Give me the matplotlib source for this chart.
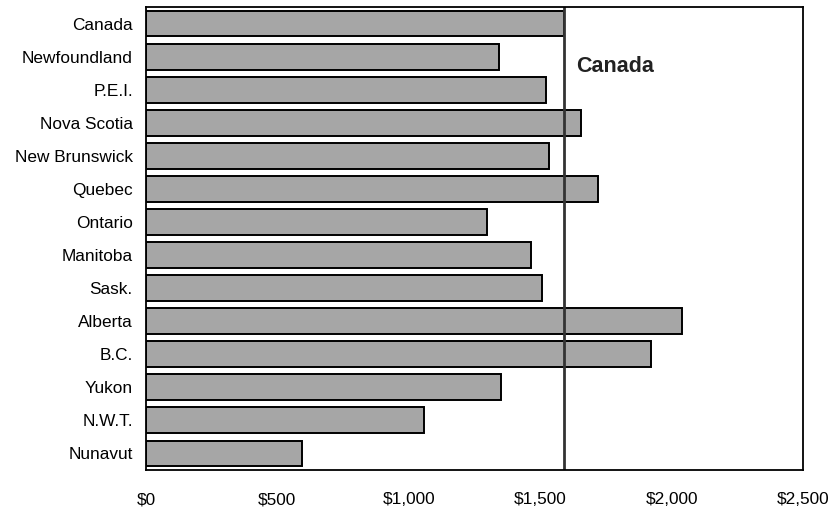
import numpy as np
import matplotlib.pyplot as plt
from matplotlib.ticker import FuncFormatter

plt.rcParams['font.family'] = ['Liberation Sans', 'DejaVu Sans']

# Data
regions = ['Canada', 'Newfoundland', 'P.E.I.', 'Nova Scotia', 'New Brunswick',
           'Quebec', 'Ontario', 'Manitoba', 'Sask.', 'Alberta', 'B.C.',
           'Yukon', 'N.W.T.', 'Nunavut']
values = [1591, 1345, 1521, 1654, 1532, 1719, 1299, 1464, 1508, 2040, 1923,
          1350, 1057, 593]
canada_value = values[0]
x_ticks = [0, 500, 1000, 1500, 2000, 2500]

fig = plt.figure(figsize=(8.3, 5.11), dpi=100)
ax = fig.add_axes([146 / 830, 1 - 470 / 511, 657 / 830, 463 / 511])

pos = np.arange(len(regions))
ax.barh(pos, values, height=0.78, color='#a6a6a6', edgecolor='black', linewidth=1.4)

# Canada reference line and label
ax.axvline(canada_value, color='#333333', linewidth=2.0)
ax.text(1636, 1.46, 'Canada', fontsize=15.5, fontweight='bold', color='#222222',
        ha='left', va='baseline')

ax.set_xlim(0, 2500)
ax.set_ylim(len(regions) - 0.5, -0.5)
ax.set_yticks(pos)
ax.set_yticklabels(regions)
ax.set_xticks(x_ticks)
ax.xaxis.set_major_formatter(FuncFormatter(lambda v, p: '${:,.0f}'.format(v)))

ax.tick_params(axis='y', length=0, pad=9.5, labelsize=12.4)
ax.tick_params(axis='x', length=0, pad=16, labelsize=12.4)

for s in ax.spines.values():
    s.set_linewidth(1.3)
    s.set_color('black')

plt.savefig('out.png', dpi=100)
